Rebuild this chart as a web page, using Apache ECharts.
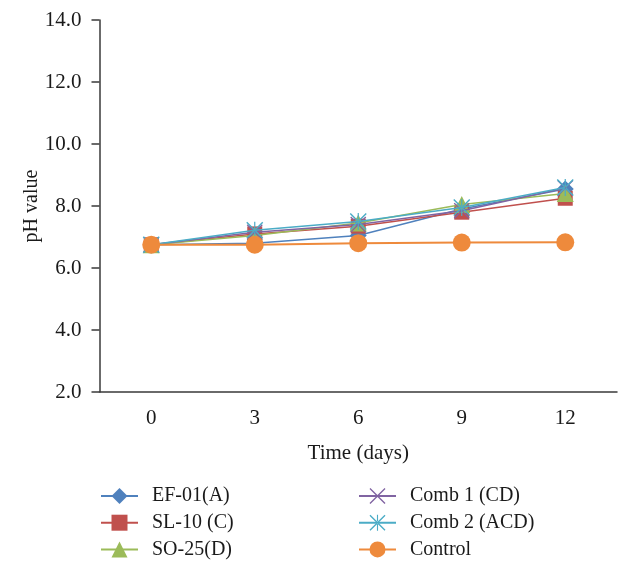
<!DOCTYPE html>
<html>
<head>
<meta charset="utf-8">
<script src="https://cdn.jsdelivr.net/npm/echarts@6/dist/echarts.min.js"></script>
<style>
html,body{margin:0;padding:0;background:#fff;}
#chart{width:631px;height:574px;}
</style>
</head>
<body>
<div id="chart"></div>
<script>
const categories = ['0', '3', '6', '9', '12'];
const seriesNames = ['EF-01(A)', 'SL-10 (C)', 'SO-25(D)', 'Comb 1 (CD)', 'Comb 2 (ACD)', 'Control'];
const ef01 = [6.75, 6.80, 7.05, 7.90, 8.55];
const sl10 = [6.75, 7.10, 7.35, 7.80, 8.25];
const so25 = [6.75, 7.05, 7.45, 8.05, 8.40];
const comb1 = [6.75, 7.15, 7.40, 7.85, 8.58];
const comb2 = [6.75, 7.22, 7.50, 7.95, 8.60];
const control = [6.75, 6.75, 6.80, 6.82, 6.83];
const yTicks = [2, 4, 6, 8, 10, 12, 14];

const colors = ['#4F81BD', '#C0504D', '#9BBB59', '#8064A2', '#4BACC6', '#EE8A3C'];
const FONT = '"Liberation Serif", "DejaVu Serif", serif';

const xPath = 'path://M0,1.2 L1.2,0 L10,8.8 L18.8,0 L20,1.2 L11.2,10 L20,18.8 L18.8,20 L10,11.2 L1.2,20 L0,18.8 L8.8,10 Z';
const starPath = 'path://M0,1.2 L1.2,0 L10,8.8 L18.8,0 L20,1.2 L11.2,10 L20,18.8 L18.8,20 L10,11.2 L1.2,20 L0,18.8 L8.8,10 Z M9.3,0 L9.3,20 L10.7,20 L10.7,0 Z';

const seriesData = [ef01, sl10, so25, comb1, comb2, control];
const symbols = ['diamond', 'rect', 'triangle', xPath, starPath, 'circle'];
const sizes = [17, 15, 17, 16, 17, 18];

const series = seriesNames.map((name, i) => ({
  name: name,
  type: 'line',
  data: seriesData[i],
  symbol: symbols[i],
  symbolSize: sizes[i],
  showAllSymbol: true,
  lineStyle: { color: colors[i], width: i === 5 ? 2 : 1.5 },
  itemStyle: { color: colors[i], borderWidth: 0 },
  emphasis: { disabled: true },
  z: 2 + i
}));

const legendCommon = {
  orient: 'vertical',
  top: 481,
  itemWidth: 37,
  itemHeight: 20,
  itemGap: 6.7,
  textStyle: { fontFamily: FONT, fontSize: 20, color: '#1a1a1a', lineHeight: 20, padding: [0, 0, 0, 9] },
  selectedMode: false
};

const option = {
  animation: false,
  backgroundColor: '#fff',
  color: colors,
  grid: { left: 99.5, right: 14, top: 20, bottom: 182, containLabel: false },
  legend: [
    Object.assign({}, legendCommon, { left: 95, data: seriesNames.slice(0, 3) }),
    Object.assign({}, legendCommon, { left: 353, data: seriesNames.slice(3, 6) })
  ],
  xAxis: {
    type: 'category',
    data: categories,
    boundaryGap: true,
    name: 'Time (days)',
    nameLocation: 'middle',
    nameGap: 51,
    nameTextStyle: { fontFamily: FONT, fontSize: 21, color: '#1a1a1a' },
    axisLine: { lineStyle: { color: '#3a3a3a', width: 1.5 } },
    axisTick: { alignWithLabel: true, length: 8, lineStyle: { color: '#3a3a3a', width: 1.5 } },
    axisLabel: { fontFamily: FONT, fontSize: 21, color: '#1a1a1a', margin: 16 },
    splitLine: { show: false }
  },
  yAxis: {
    type: 'value',
    min: yTicks[0],
    max: yTicks[yTicks.length - 1],
    interval: 2,
    name: 'pH value',
    nameLocation: 'middle',
    nameGap: 58,
    nameMoveOverlap: false,
    nameTextStyle: { fontFamily: FONT, fontSize: 20, color: '#1a1a1a' },
    axisLine: { show: true, lineStyle: { color: '#3a3a3a', width: 1.5 } },
    axisTick: { show: true, length: 8, lineStyle: { color: '#3a3a3a', width: 1.5 } },
    axisLabel: { fontFamily: FONT, fontSize: 21, color: '#1a1a1a', margin: 18, formatter: v => v.toFixed(1) },
    splitLine: { show: false }
  },
  series: series
};

const chart = echarts.init(document.getElementById('chart'), null, { renderer: 'canvas' });
chart.setOption(option);
</script>
</body>
</html>
